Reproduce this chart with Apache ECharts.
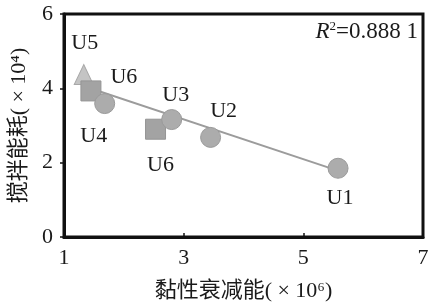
<!DOCTYPE html>
<html><head><meta charset="utf-8">
<script src="https://cdn.jsdelivr.net/npm/echarts@6/dist/echarts.min.js"></script>
<style>html,body{margin:0;padding:0;background:#fff}#c{width:435px;height:307px}</style>
</head><body><div id="c"></div>
<script>
// Data
const names = ['U5', 'U6', 'U4', 'U6', 'U3', 'U2', 'U1'];
const xVals = [1.33, 1.45, 1.68, 2.53, 2.80, 3.45, 5.58];
const yVals = [4.37, 3.93, 3.59, 2.90, 3.16, 2.68, 1.85];
const shapes = ['triangle', 'rect', 'circle', 'rect', 'circle', 'circle', 'circle'];
const trendX = [1.35, 5.55];
const trendY = [4.05, 1.80];
const xTicks = [1, 3, 5, 7];
const yTicks = [0, 2, 4, 6];
const r2Text = '0.888 1';

// Styling (not data)
const labelOffsets = [[1,-31],[33,-14],[-11,33],[5,36],[4,-24],[13,-26],[2,30]];
const shapeStyle = {
  triangle: {size: [19, 20], color: '#c4c4c4', border: '#a8a8a8', z: 2},
  rect: {size: 20, color: '#a3a3a3', border: '#949494', z: 3},
  circle: {size: 20, color: '#acacac', border: '#9a9a9a', z: 4}
};

const serif = '"Liberation Serif", "DejaVu Serif", serif';
const cjk = '"Liberation Serif", "Noto Sans CJK SC", serif';

const series = [{
  type: 'line',
  data: trendX.map((x, i) => [x, trendY[i]]),
  symbol: 'none',
  lineStyle: {color: '#9c9c9c', width: 2},
  z: 1, silent: true
}];
names.forEach((n, i) => {
  const st = shapeStyle[shapes[i]];
  series.push({
    type: 'scatter',
    data: [[xVals[i], yVals[i]]],
    symbol: shapes[i],
    symbolSize: st.size,
    itemStyle: {color: st.color, borderColor: st.border, borderWidth: 1, opacity: 1},
    label: {
      show: true, position: 'inside', offset: labelOffsets[i],
      formatter: () => n,
      color: '#1a1a1a', fontFamily: serif, fontSize: 22
    },
    z: st.z
  });
});

const chart = echarts.init(document.getElementById('c'), null, {renderer: 'canvas'});
chart.setOption({
  animation: false,
  backgroundColor: '#fff',
  grid: {left: 63, right: 12, top: 14, bottom: 69, show: true, borderColor: '#111', borderWidth: 3, backgroundColor: 'transparent'},
  xAxis: {
    type: 'value', min: xTicks[0], max: xTicks[xTicks.length - 1], interval: 2,
    axisLine: {show: true, lineStyle: {color: '#111', width: 3}},
    axisTick: {show: true, inside: true, length: 4, lineStyle: {color: '#111', width: 1.5}},
    axisLabel: {color: '#1a1a1a', fontFamily: serif, fontSize: 22, margin: 10},
    splitLine: {show: false},
    name: '黏性衰减能( × 10⁶)', nameLocation: 'middle', nameGap: 43,
    nameTextStyle: {color: '#1a1a1a', fontFamily: cjk, fontSize: 22}
  },
  yAxis: {
    type: 'value', min: yTicks[0], max: yTicks[yTicks.length - 1], interval: 2,
    axisLine: {show: true, lineStyle: {color: '#111', width: 3}},
    axisTick: {show: true, inside: false, length: 4, lineStyle: {color: '#111', width: 1.5}},
    axisLabel: {color: '#1a1a1a', fontFamily: serif, fontSize: 22, margin: 11},
    splitLine: {show: false},
    name: '搅拌能耗( × 10⁴)', nameLocation: 'middle', nameGap: 34, nameRotate: 90,
    nameTextStyle: {color: '#1a1a1a', fontFamily: cjk, fontSize: 22}
  },
  graphic: [{
    type: 'text', right: 17, top: 20,
    style: {
      rich: {
        i: {fontFamily: serif, fontStyle: 'italic', fontSize: 23, fill: '#1a1a1a'},
        s: {fontFamily: serif, fontSize: 13, fill: '#1a1a1a', verticalAlign: 'top', padding: [0,0,10,0]},
        n: {fontFamily: serif, fontSize: 23, fill: '#1a1a1a'}
      },
      text: '{i|R}{s|2}{n|=' + r2Text + '}'
    }
  }],
  series: series
});
</script>
</body></html>
